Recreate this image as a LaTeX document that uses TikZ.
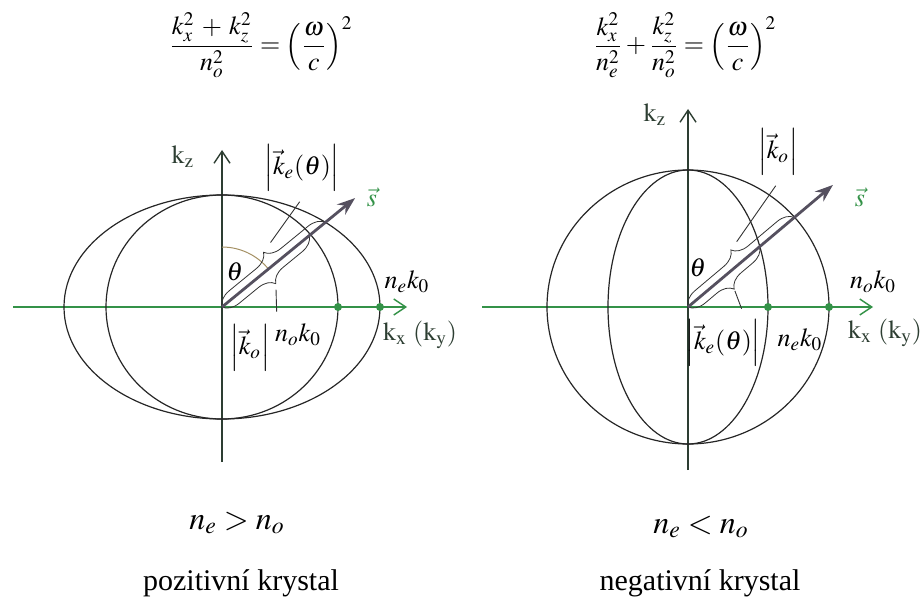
\documentclass[tikz,border=0pt]{standalone}
\usepackage{mathptmx}
\usepackage{fontspec}
\setmainfont{Liberation Serif}
\usepackage{tikz}
\usetikzlibrary{arrows.meta,positioning,calc,decorations.pathreplacing}
\definecolor{kgreen}{RGB}{52,146,72}
\definecolor{vdark}{RGB}{45,62,50}
\definecolor{sgray}{RGB}{85,80,95}
\definecolor{arcbrown}{RGB}{165,145,100}

\begin{document}
\begin{tikzpicture}[x=0.5pt, y=0.5pt, every node/.style={font=\fontsize{13}{15}\selectfont},
  haxis/.style={draw=kgreen, line width=0.7pt, -{Straight Barb[length=6pt,width=8pt]}},
  vaxis/.style={draw=vdark, line width=0.7pt, -{Straight Barb[length=6pt,width=8pt]}},
  surf/.style={draw=black!85, line width=0.6pt},
  wave/.style={draw=sgray, line width=1.4pt, -{Stealth[length=9pt,width=6.5pt]}},
  kbrace/.style={draw=black!80, line width=0.4pt, decorate, decoration={brace, amplitude=8pt}},
  leader/.style={draw=black!80, line width=0.45pt},
  kdot/.style={fill=kgreen},
  eqn/.style={font=\fontsize{13}{15}\selectfont, inner sep=1pt},
  rel/.style={font=\fontsize{16}{19}\selectfont},
  caption/.style={font=\fontsize{15}{18}\selectfont}]
  \useasboundingbox (0,0) rectangle (924,611);
  % dispersion relations
  \node[eqn] (eqpos) at (261,566) {$\displaystyle\frac{k_x^2\:+\:k_z^2}{n_o^2}=\left(\frac{\omega}{c}\right)^2$};
  \node[eqn] (eqneg) at (685,566) {$\displaystyle\frac{k_x^2}{n_e^2}+\frac{k_z^2}{n_o^2}=\left(\frac{\omega}{c}\right)^2$};

  % positive crystal
  \begin{scope}[shift={(222,304)}]
    \coordinate (o1) at (0,0);
    \coordinate (e1) at (39.3:133.7); % ellipse hit
    \coordinate (c1) at (39.3:113);   % circle hit
    \coordinate (s1) at (39.3:172);
    \draw[haxis] (-209,0) -- (185,0);
    \draw[vaxis] (0,-155) -- (0,157);
    \draw[surf] (o1) ellipse [x radius=158, y radius=112];
    \draw[surf] (o1) ellipse [x radius=116, y radius=112];
    \fill[kdot] (116,0) circle [radius=4];
    \fill[kdot] (158,0) circle [radius=4];
    \draw[arcbrown, line width=0.5pt] (90:60) arc [start angle=90, end angle=39.3, radius=60];
    \draw[kbrace] (o1) -- (e1);
    \draw[kbrace, decoration={mirror}] (o1) -- (c1);
    \draw[wave] (o1) -- (s1);
    \coordinate (te1) at ($(o1)!0.5!(e1)!8pt!90:(e1)$);
    \coordinate (tc1) at ($(o1)!0.5!(c1)!8pt!-90:(c1)$);
    % labels
    \node[vdark] (kz1) at (-39,150) {$\mathrm{k_z}$};
    \node[vdark] (kx1) at (198,-28) {$\mathrm{k_x\ (k_y)}$};
    \node[kgreen] (sl1) at (150,110) {$\vec{s}$};
    \node (th1) at (13,35) {$\theta$};
    \node (ne1) at (185,25) {$n_e k_0$};
    \node (no1) at (76,-28) {$n_o k_0$};
    \node (ke1) at (80,139) {$\left|\vec{k}_e(\theta)\right|$};
    \node (ko1) at (28,-41) {$\left|\vec{k}_o\right|$};
    \draw[leader, shorten <=6pt, shorten >=2pt] (te1) -- (ke1.south);
    \draw[leader, shorten <=3pt, shorten >=3pt] (tc1) -- (ko1.north east);
  \end{scope}

  % negative crystal
  \begin{scope}[shift={(688,304)}]
    \coordinate (o2) at (0,0);
    \coordinate (e2) at (40.1:93.8);  % ellipse hit
    \coordinate (c2) at (40.1:139.3); % circle hit
    \coordinate (s2) at (40.1:189.5);
    \draw[haxis] (-206,0) -- (185,0);
    \draw[vaxis] (0,-163) -- (0,198);
    \draw[surf] (o2) ellipse [x radius=141, y radius=137];
    \draw[surf] (o2) ellipse [x radius=80, y radius=137];
    \fill[kdot] (80,0) circle [radius=4];
    \fill[kdot] (141,0) circle [radius=4];
    \draw[kbrace] (o2) -- (c2);
    \draw[kbrace, decoration={mirror}] (o2) -- (e2);
    \draw[wave] (o2) -- (s2);
    \coordinate (tc2) at ($(o2)!0.5!(c2)!8pt!90:(c2)$);
    \coordinate (te2) at ($(o2)!0.5!(e2)!8pt!-90:(e2)$);
    % labels
    \node[vdark] (kz2) at (-33,192) {$\mathrm{k_z}$};
    \node[vdark] (kx2) at (197,-26) {$\mathrm{k_x\ (k_y)}$};
    \node[kgreen] (sl2) at (172,110) {$\vec{s}$};
    \node (th2) at (10,39) {$\theta$};
    \node (no2) at (185,25) {$n_o k_0$};
    \node (ne2) at (112,-33) {$n_e k_0$};
    \node (ko2) at (90,155) {$\left|\vec{k}_o\right|$};
    \node (ke2) at (35,-36) {$\left|\vec{k}_e(\theta)\right|$};
    \draw[leader, shorten <=5pt, shorten >=2pt] (tc2) -- (ko2.south);
    \draw[leader, shorten <=1pt, shorten >=2pt] (te2) -- ([xshift=10pt]ke2.north);
  \end{scope}

  % crystal type
  \node[rel] (relpos) at (237,88) {$n_e > n_o$};
  \node[rel] (relneg) at (701,84) {$n_e < n_o$};
  \node[caption] (cappos) at (241,28) {pozitivní krystal};
  \node[caption] (capneg) at (700,28) {negativní krystal};
\end{tikzpicture}
\end{document}
